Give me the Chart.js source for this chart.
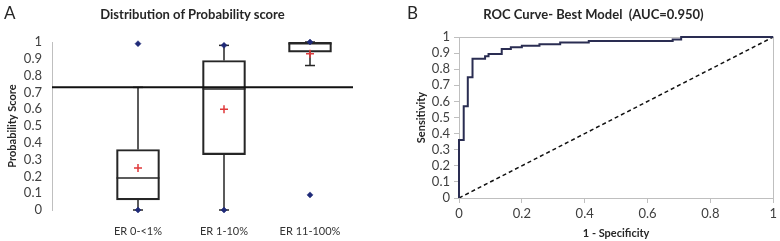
<!DOCTYPE html>
<html>
<head>
<meta charset="utf-8">
<script src="https://cdn.jsdelivr.net/npm/chart.js@4.4.1/dist/chart.umd.min.js"></script>
<style>
  html, body { margin: 0; padding: 0; background: #fff; width: 780px; height: 241px; overflow: hidden; }
  #wa { position: absolute; left: 0; top: 0; width: 390px; height: 241px; }
  #wb { position: absolute; left: 390px; top: 0; width: 390px; height: 241px; }
  .letter { position: absolute; font: 17px Lato, "Liberation Sans", sans-serif; color: #262626; line-height: 20px; }
  .ttl { position: absolute; font: bold 13px Lato, "Liberation Sans", sans-serif; color: #262626; line-height: 16px; text-align: center; white-space: pre; }
</style>
</head>
<body>
<div id="wa"><canvas id="ca" width="390" height="241"></canvas></div>
<div id="wb"><canvas id="cb" width="390" height="241"></canvas></div>
<div class="letter" style="left:4px; top:3px;">A</div>
<div class="letter" style="left:407px; top:3px;">B</div>
<div class="ttl" style="left:92px; top:6px; width:201px;">Distribution of Probability score</div>
<script>
// ---------- Panel A: box plot data ----------
const categories = ['ER 0-<1%', 'ER 1-10%', 'ER 11-100%'];
const boxQ1 = [0.06, 0.33, 0.94];
const boxMedian = [0.19, 0.72, 0.99];
const boxQ3 = [0.36, 0.89, 1.00];
const whiskerLow = [0.00, 0.00, 0.86];
const whiskerHigh = [0.73, 0.98, 1.00];
const minPoint = [0.00, 0.00, 0.09];
const maxPoint = [0.99, 0.98, 1.00];
const meanPoint = [0.25, 0.60, 0.93];
const cutoff = 0.73;
const probTicks = [0, 0.1, 0.2, 0.3, 0.4, 0.5, 0.6, 0.7, 0.8, 0.9, 1];

// ---------- Panel B: ROC data ----------
const rocFPR = [0, 0, 0.015, 0.028, 0.043, 0.083, 0.094, 0.136, 0.165, 0.20, 0.256, 0.322, 0.413, 0.68, 0.707, 1];
const rocTPR = [0, 0.36, 0.57, 0.75, 0.865, 0.88, 0.895, 0.925, 0.936, 0.945, 0.955, 0.966, 0.975, 0.985, 1, 1];
const chanceFPR = [0, 1];
const chanceTPR = [0, 1];
const rocTicksX = [0, 0.2, 0.4, 0.6, 0.8, 1];
const rocTicksY = [0, 0.1, 0.2, 0.3, 0.4, 0.5, 0.6, 0.7, 0.8, 0.9, 1];

const FONT = 'Lato, "Liberation Sans", sans-serif';
Chart.defaults.font.family = FONT;
Chart.defaults.color = '#404040';

const INK = '#262626';
const AXIS = '#bfbfbf';
const BLUE = '#1f2a78';
const RED = '#e0383a';

// category positions on a linear x axis
const catPos = categories.map((c, i) => i + 1);
const xMinA = 0, xMaxA = 3.5;
const pts = arr => arr.map((v, i) => ({ x: catPos[i], y: v }));
const whiskerData = [];
catPos.forEach((p, i) => {
  whiskerData.push({ x: p, y: boxQ1[i] }, { x: p, y: whiskerLow[i] }, { x: p, y: null });
  whiskerData.push({ x: p, y: boxQ3[i] }, { x: p, y: whiskerHigh[i] }, { x: p, y: null });
});

new Chart(document.getElementById('ca'), {
  type: 'bar',
  data: {
    datasets: [
      { type: 'line', label: 'Max', data: pts(maxPoint), showLine: false, pointStyle: 'rectRot', pointRadius: 3,
        pointBackgroundColor: BLUE, pointBorderColor: BLUE, pointBorderWidth: 0.5, clip: false, order: 0 },
      { type: 'line', label: 'Min', data: pts(minPoint), showLine: false, pointStyle: 'rectRot', pointRadius: 3,
        pointBackgroundColor: BLUE, pointBorderColor: BLUE, pointBorderWidth: 0.5, clip: false, order: 0 },
      { type: 'line', label: 'Mean', data: pts(meanPoint), showLine: false, pointStyle: 'cross', pointRadius: 4,
        pointBorderColor: RED, pointBorderWidth: 1.5, clip: false, order: 0 },
      { type: 'line', label: 'Cutoff', data: [{ x: xMinA, y: cutoff }, { x: xMaxA, y: cutoff }],
        borderColor: '#111', borderWidth: 2, pointRadius: 0, order: 1 },
      { type: 'line', label: 'Median', data: pts(boxMedian), showLine: false,
        pointStyle: 'line', pointRadius: 21.5, pointBorderColor: INK, pointBorderWidth: 1.5, clip: false, order: 2 },
      { type: 'line', label: 'Caps', data: [...pts(whiskerLow), ...pts(whiskerHigh)], showLine: false,
        pointStyle: 'line', pointRadius: 5, pointBorderColor: INK, pointBorderWidth: 1.5, clip: false, order: 2 },
      { type: 'line', label: 'Whiskers', data: whiskerData, borderColor: INK, borderWidth: 1.5, pointRadius: 0,
        spanGaps: false, clip: false, order: 3 },
      { type: 'bar', label: 'Box', data: catPos.map((p, i) => ({ x: p, y: [boxQ1[i], boxQ3[i]] })),
        backgroundColor: 'rgba(255,255,255,0)', borderColor: INK, borderWidth: 1.5, borderSkipped: false,
        barThickness: 43, grouped: false, order: 4 }
    ]
  },
  options: {
    responsive: false, animation: false, events: [],
    layout: { padding: { left: 0, right: 37, top: 42, bottom: 0 } },
    plugins: { legend: { display: false }, tooltip: { enabled: false }, title: { display: false } },
    scales: {
      x: {
        type: 'linear', min: xMinA, max: xMaxA, offset: false,
        afterBuildTicks: s => { s.ticks = catPos.map(v => ({ value: v })); },
        afterFit: s => { s.height = 31; },
        ticks: { autoSkip: false, maxRotation: 0, padding: 15, color: '#333', font: { size: 11 },
                 callback: v => categories[catPos.indexOf(v)] || '' },
        grid: { display: false, drawTicks: false },
        border: { display: false }
      },
      y: {
        type: 'linear', min: 0, max: 1,
        afterBuildTicks: s => { s.ticks = probTicks.map(v => ({ value: v })); },
        afterFit: s => { s.width = 52; },
        ticks: { autoSkip: false, padding: 10, color: '#404040', font: { size: 13 }, callback: v => String(+v.toFixed(1)) },
        grid: { display: true, drawOnChartArea: false, drawTicks: false, color: AXIS },
        border: { display: true, color: AXIS, width: 1 },
        title: { display: true, text: 'Probability Score', color: INK, font: { size: 11, weight: 'bold' },
                 padding: { top: 6, bottom: 0 } }
      }
    }
  }
});

const frame = {
  id: 'frame',
  beforeDatasetsDraw(chart) {
    const { ctx, chartArea: a } = chart;
    ctx.save();
    ctx.strokeStyle = AXIS;
    ctx.lineWidth = 1;
    ctx.beginPath();
    ctx.moveTo(Math.round(a.left), Math.round(a.top) + 0.5);
    ctx.lineTo(Math.round(a.right) + 0.5, Math.round(a.top) + 0.5);
    ctx.lineTo(Math.round(a.right) + 0.5, Math.round(a.bottom));
    ctx.stroke();
    ctx.restore();
  }
};

new Chart(document.getElementById('cb'), {
  type: 'line',
  data: {
    datasets: [
      { label: 'ROC', data: rocFPR.map((x, i) => ({ x: x, y: rocTPR[i] })), stepped: 'before',
        borderColor: '#2a2d52', borderWidth: 2, pointRadius: 0, fill: false, clip: false, order: 0 },
      { label: 'Chance', data: chanceFPR.map((x, i) => ({ x: x, y: chanceTPR[i] })),
        borderColor: '#111', borderWidth: 1.5, borderDash: [4, 3], pointRadius: 0, fill: false, order: 1 }
    ]
  },
  options: {
    responsive: false, animation: false, events: [],
    layout: { padding: { left: 21, right: 4, top: 0, bottom: 0 } },
    plugins: {
      legend: { display: false }, tooltip: { enabled: false },
      title: { display: true, text: 'ROC Curve- Best Model  (AUC=0.950)', color: INK,
               font: { size: 13, weight: 'bold' }, padding: { top: 7, bottom: 14.4 } }
    },
    scales: {
      x: {
        type: 'linear', min: 0, max: 1,
        afterBuildTicks: s => { s.ticks = rocTicksX.map(v => ({ value: v })); },
        afterFit: s => { s.height = 43; },
        ticks: { autoSkip: false, padding: 3, color: '#404040', font: { size: 13 }, maxRotation: 0, callback: v => String(+v.toFixed(1)) },
        grid: { drawOnChartArea: false, tickLength: 5, color: AXIS },
        border: { color: AXIS },
        title: { display: true, text: '1 - Specificity', color: INK, font: { size: 11, weight: 'bold' },
                 padding: { top: 0, bottom: 1 } }
      },
      y: {
        type: 'linear', min: 0, max: 1,
        afterBuildTicks: s => { s.ticks = rocTicksY.map(v => ({ value: v })); },
        afterFit: s => { s.width = 48; },
        ticks: { autoSkip: false, padding: 4, color: '#404040', font: { size: 13 }, callback: v => String(+v.toFixed(1)) },
        grid: { drawOnChartArea: false, tickLength: 5, color: AXIS },
        border: { color: AXIS },
        title: { display: true, text: 'Sensitivity', color: INK, font: { size: 11, weight: 'bold' },
                 padding: { top: 4, bottom: 0 } }
      }
    }
  },
  plugins: [frame]
});
</script>
</body>
</html>
